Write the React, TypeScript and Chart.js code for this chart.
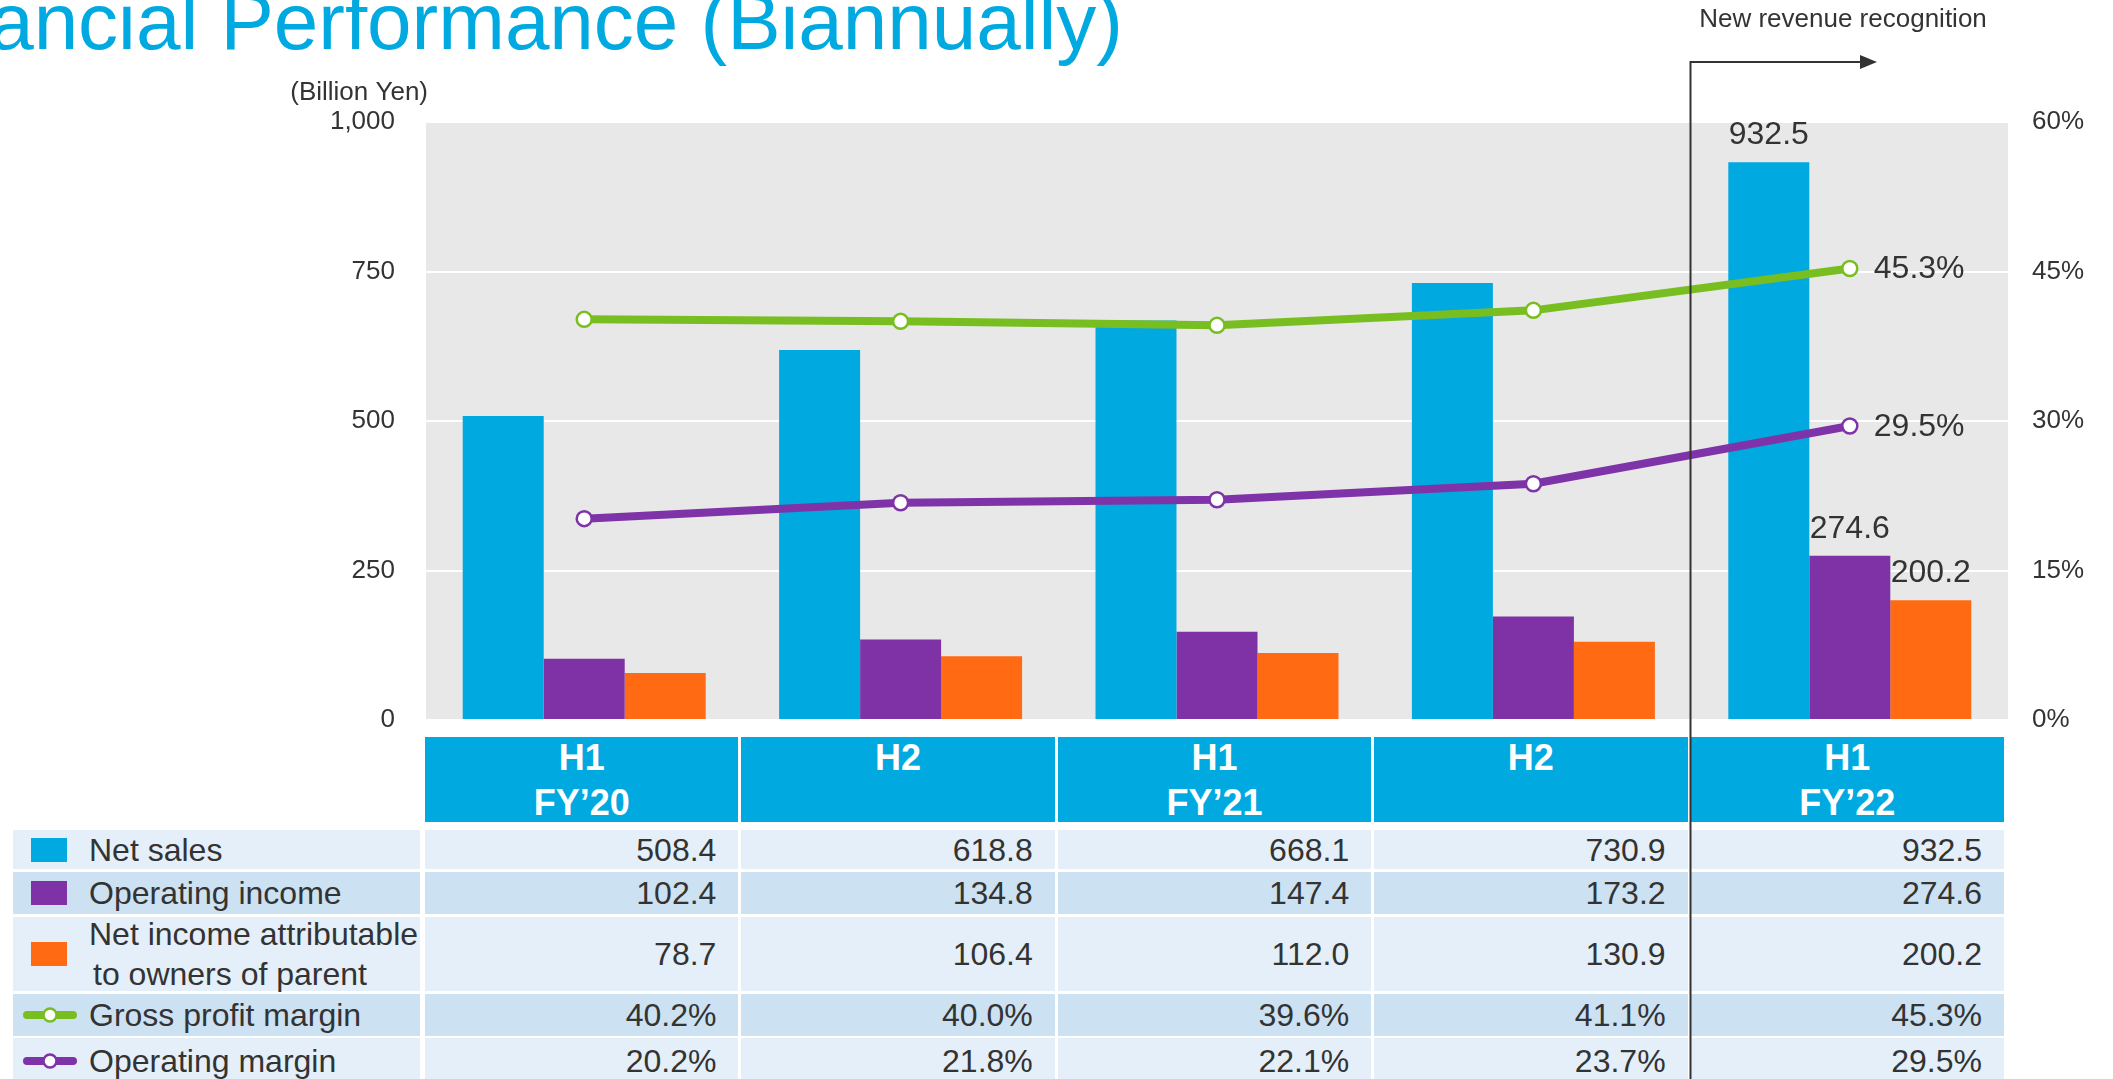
import React, { useEffect, useRef } from 'react';
import { Chart, registerables } from 'chart.js';

Chart.register(...registerables);

// ---------- data ----------
const categories = ['H1 FY’20', 'H2 FY’20', 'H1 FY’21', 'H2 FY’21', 'H1 FY’22'];
const headerLine1 = ['H1', 'H2', 'H1', 'H2', 'H1'];
const headerLine2 = ['FY’20', '', 'FY’21', '', 'FY’22'];
const netSales = [508.4, 618.8, 668.1, 730.9, 932.5];
const operatingIncome = [102.4, 134.8, 147.4, 173.2, 274.6];
const netIncome = [78.7, 106.4, 112.0, 130.9, 200.2];
const grossMargin = [40.2, 40.0, 39.6, 41.1, 45.3];
const operatingMargin = [20.2, 21.8, 22.1, 23.7, 29.5];
const leftAxis = { min: 0, max: 1000, step: 250 };
const rightAxis = { min: 0, max: 60, step: 15 };
const seriesNames = ['Net sales', 'Operating income', 'Net income attributable|to owners of parent', 'Gross profit margin', 'Operating margin'];
const titleText = 'Financial Performance (Biannually)';
const unitText = '(Billion Yen)';
const annotationText = 'New revenue recognition';
const annotationAfterIndex = 3;

// ---------- styles ----------
const W = 2113;
const H = 1079;
const FONT = '"Liberation Sans", Arial, sans-serif';
const BLUE = '#00A9E0';
const PURPLE = '#7F31A6';
const ORANGE = '#FF6A13';
const GREEN = '#78BE20';
const LINE_PURPLE = '#7F33A8';
const TEXT = '#333333';
const PLOT_LEFT = 426;
const PLOT_RIGHT = 2008;
const PLOT_TOP = 122;
const PLOT_BOTTOM = 720;

const fmt1 = (v: number) => v.toFixed(1);
const fmtPct = (v: number) => v.toFixed(1) + '%';

const plotBg = {
  id: 'plotBg',
  beforeDraw(chart: any) {
    const { ctx, chartArea: a } = chart;
    ctx.save();
    ctx.fillStyle = '#E8E8E8';
    ctx.fillRect(a.left, a.top, a.right - a.left, a.bottom - a.top);
    ctx.restore();
  },
};

const valueLabels = {
  id: 'valueLabels',
  afterDatasetsDraw(chart: any) {
    const { ctx } = chart;
    const last = categories.length - 1;
    ctx.save();
    ctx.font = `32px ${FONT}`;
    ctx.fillStyle = TEXT;
    // bars
    [0, 1, 2].forEach((d) => {
      const el = chart.getDatasetMeta(d).data[last];
      const v = chart.data.datasets[d].data[last];
      ctx.textAlign = 'center';
      ctx.textBaseline = 'alphabetic';
      ctx.fillText(fmt1(v), el.x, el.y - 18);
    });
    // lines
    [3, 4].forEach((d) => {
      const el = chart.getDatasetMeta(d).data[last];
      const v = chart.data.datasets[d].data[last];
      ctx.textAlign = 'left';
      ctx.textBaseline = 'middle';
      ctx.fillText(fmtPct(v), el.x + 24, el.y + 1);
    });
    ctx.restore();
  },
};

const annotation = {
  id: 'annotation',
  afterDraw(chart: any) {
    const { ctx } = chart;
    const xs = chart.scales.x;
    const x = Math.round((xs.getPixelForValue(annotationAfterIndex) + xs.getPixelForValue(annotationAfterIndex + 1)) / 2) - 2;
    const yTop = 62;
    ctx.save();
    ctx.strokeStyle = TEXT;
    ctx.fillStyle = TEXT;
    ctx.lineWidth = 2;
    ctx.beginPath();
    ctx.moveTo(x + 0.5, H);
    ctx.lineTo(x + 0.5, yTop);
    ctx.lineTo(x + 172, yTop);
    ctx.stroke();
    ctx.beginPath();
    ctx.moveTo(x + 170, yTop - 7);
    ctx.lineTo(x + 187, yTop);
    ctx.lineTo(x + 170, yTop + 7);
    ctx.closePath();
    ctx.fill();
    ctx.font = `26px ${FONT}`;
    ctx.textAlign = 'center';
    ctx.textBaseline = 'middle';
    ctx.fillText(annotationText, x + 153, 20);
    // unit label
    ctx.textAlign = 'right';
    ctx.textBaseline = 'alphabetic';
    ctx.fillText(unitText, 428, 100);
    ctx.restore();
  },
};

function LegendIcon({ idx }: { idx: number }) {
  if (idx < 3) {
    const c = [BLUE, PURPLE, ORANGE][idx];
    return <div style={{ position: 'absolute', left: 18, top: '50%', marginTop: -12, width: 36, height: 24, background: c }} />;
  }
  const c = idx === 3 ? GREEN : LINE_PURPLE;
  return (
    <svg style={{ position: 'absolute', left: 10, top: '50%', marginTop: -10 }} width={54} height={20}>
      <line x1={4} y1={10} x2={50} y2={10} stroke={c} strokeWidth={8} strokeLinecap="round" />
      <circle cx={27} cy={10} r={6.5} fill="#fff" stroke={c} strokeWidth={2.5} />
    </svg>
  );
}

export default function App() {
  const canvasRef = useRef<HTMLCanvasElement>(null);

  useEffect(() => {
    const chart = new Chart(canvasRef.current as HTMLCanvasElement, {
      type: 'bar',
      data: {
        labels: categories,
        datasets: [
          { type: 'bar', label: 'Net sales', data: netSales, backgroundColor: BLUE, yAxisID: 'y', order: 2, barPercentage: 1, categoryPercentage: 0.768 },
          { type: 'bar', label: 'Operating income', data: operatingIncome, backgroundColor: PURPLE, yAxisID: 'y', order: 2, barPercentage: 1, categoryPercentage: 0.768 },
          { type: 'bar', label: 'Net income attributable to owners of parent', data: netIncome, backgroundColor: ORANGE, yAxisID: 'y', order: 2, barPercentage: 1, categoryPercentage: 0.768 },
          { type: 'line', label: 'Gross profit margin', data: grossMargin, borderColor: GREEN, borderWidth: 8, pointRadius: 7.5, pointBorderWidth: 2.5, pointBackgroundColor: '#fff', pointBorderColor: GREEN, yAxisID: 'y2', order: 0, tension: 0 },
          { type: 'line', label: 'Operating margin', data: operatingMargin, borderColor: LINE_PURPLE, borderWidth: 8, pointRadius: 7.5, pointBorderWidth: 2.5, pointBackgroundColor: '#fff', pointBorderColor: LINE_PURPLE, yAxisID: 'y2', order: 1, tension: 0 },
        ] as any,
      },
      options: {
        responsive: false,
        animation: false,
        devicePixelRatio: 1,
        layout: { padding: { top: PLOT_TOP, bottom: H - PLOT_BOTTOM, left: 0, right: 0 } },
        plugins: { legend: { display: false }, tooltip: { enabled: false } },
        scales: {
          x: { display: false },
          y: {
            position: 'left',
            min: leftAxis.min,
            max: leftAxis.max,
            ticks: { stepSize: leftAxis.step, padding: 31, color: TEXT, font: { family: FONT, size: 26 }, callback: (v: any) => Number(v).toLocaleString('en-US') },
            grid: { color: '#FFFFFF', lineWidth: 2, drawTicks: false },
            border: { display: false },
            afterFit: (s: any) => { s.width = PLOT_LEFT; },
          },
          y2: {
            position: 'right',
            min: rightAxis.min,
            max: rightAxis.max,
            ticks: { stepSize: rightAxis.step, padding: 24, color: TEXT, font: { family: FONT, size: 26 }, callback: (v: any) => v + '%' },
            grid: { display: false, drawTicks: false },
            border: { display: false },
            afterFit: (s: any) => { s.width = W - PLOT_RIGHT; },
          },
        },
      } as any,
      plugins: [plotBg, valueLabels, annotation],
    });
    return () => chart.destroy();
  }, []);

  const colW = (PLOT_RIGHT - PLOT_LEFT) / categories.length;
  const rows = [
    { top: 830, h: 39, bg: '#E4EFF9', vals: netSales.map(fmt1) },
    { top: 872, h: 42, bg: '#CCE1F2', vals: operatingIncome.map(fmt1) },
    { top: 917, h: 74, bg: '#E4EFF9', vals: netIncome.map(fmt1) },
    { top: 994, h: 42, bg: '#CCE1F2', vals: grossMargin.map(fmtPct) },
    { top: 1038, h: 45, bg: '#E4EFF9', vals: operatingMargin.map(fmtPct) },
  ];

  return (
    <div style={{ position: 'fixed', left: 0, top: 0, width: W, height: H, overflow: 'hidden', background: '#fff', fontFamily: FONT }}>
      <div style={{ position: 'absolute', left: -122, top: -18, fontSize: 80, lineHeight: '80px', color: BLUE, whiteSpace: 'nowrap' }}>{titleText}</div>

      {categories.map((c, i) => (
        <div key={c} style={{ position: 'absolute', left: PLOT_LEFT + i * colW - 1, top: 737, width: colW - 3, height: 85, background: BLUE, color: '#fff', fontWeight: 'bold', fontSize: 36, lineHeight: '45px', textAlign: 'center', boxSizing: 'border-box' }}>
          <div style={{ height: 45, marginTop: -2 }}>{headerLine1[i]}</div>
          <div style={{ height: 45 }}>{headerLine2[i]}</div>
        </div>
      ))}

      {rows.map((r, ri) => (
        <React.Fragment key={ri}>
          <div style={{ position: 'absolute', left: 13, top: r.top, width: 407, height: r.h, background: r.bg, color: TEXT, fontSize: 32 }}>
            <LegendIcon idx={ri} />
            <div style={{ position: 'absolute', left: 76, top: 0, height: r.h, display: 'flex', flexDirection: 'column', justifyContent: 'center', lineHeight: '40px', whiteSpace: 'nowrap' }}>
              {seriesNames[ri].split('|').map((t, k) => (
                <span key={k} style={{ marginLeft: k > 0 ? 4 : 0 }}>{t}</span>
              ))}
            </div>
          </div>
          {r.vals.map((v, ci) => (
            <div key={ci} style={{ position: 'absolute', left: PLOT_LEFT + ci * colW - 1, top: r.top, width: colW - 3, height: r.h, background: r.bg, color: TEXT, fontSize: 32, display: 'flex', alignItems: 'center', justifyContent: 'flex-end', paddingRight: 22, boxSizing: 'border-box', lineHeight: '40px' }}>
              {v}
            </div>
          ))}
        </React.Fragment>
      ))}

      <canvas ref={canvasRef} width={W} height={H} style={{ position: 'absolute', left: 0, top: 0, width: W, height: H, zIndex: 2, pointerEvents: 'none' }} />
    </div>
  );
}
